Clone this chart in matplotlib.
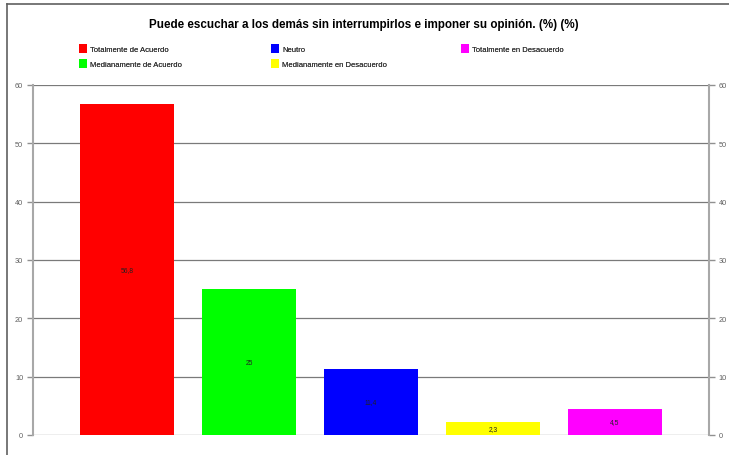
import matplotlib.pyplot as plt
from matplotlib import font_manager
from matplotlib.lines import Line2D
from matplotlib.patches import Patch

categories = [
    "Totalmente de Acuerdo",
    "Medianamente de Acuerdo",
    "Neutro",
    "Medianamente en Desacuerdo",
    "Totalmente en Desacuerdo",
]
values = [56.8, 25, 11.4, 2.3, 4.5]
value_labels = ["56,8", "25", "11,4", "2,3", "4,5"]
colors = ["#ff0000", "#00ff00", "#0000ff", "#ffff00", "#ff00ff"]
yticks = [0, 10, 20, 30, 40, 50, 60]

names = {f.name for f in font_manager.fontManager.ttflist}
narrow = "Liberation Sans Narrow" if "Liberation Sans Narrow" in names else "Liberation Sans"

fig = plt.figure(figsize=(7.29, 4.56), dpi=100)
ax = fig.add_axes([33 / 729, 1 - 436 / 456, 676 / 729, 350 / 456])

x = range(len(values))
ax.bar(x, values, width=0.77, color=colors, edgecolor="none", zorder=3)
for xi, v, lab in zip(x, values, value_labels):
    ax.text(xi, v / 2, lab, ha="center", va="center", fontsize=4.8,
            family="Liberation Sans", color="#222222", zorder=4)

ax.set_xlim(-0.77, 4.77)
ax.set_ylim(0, 60)
ax.set_yticks(yticks)
ax.set_xticks([])
ax.yaxis.grid(True, color="#7a7a7a", linewidth=0.9, zorder=1)
ax.tick_params(axis="y", which="both", direction="out", length=4, width=1,
               color="#909090", labelsize=5.3, labelcolor="#606060",
               left=True, right=True, labelleft=True, labelright=True, pad=3)
for lab in ax.get_yticklabels(which="both"):
    lab.set_family("Liberation Sans")
for side in ("left", "right"):
    ax.spines[side].set_color("#a8a8a8")
    ax.spines[side].set_linewidth(1.5)
for side in ("top", "bottom"):
    ax.spines[side].set_visible(False)

fig.text(364 / 729, 1 - 25 / 456, "Puede escuchar a los demás sin interrumpirlos e imponer su opinión. (%) (%)",
         ha="center", va="center", fontsize=8.4, fontweight="bold", family="Liberation Sans")

# legend: three columns placed like the reference, filled row by row
col_x = [79, 271, 461]
cols = [[0, 1], [2, 3], [4]]
for cx, idx in zip(col_x, cols):
    leg = fig.legend([Patch(facecolor=colors[i], edgecolor="none") for i in idx],
                     [categories[i] for i in idx],
                     loc="upper left", bbox_to_anchor=(cx / 729, 1 - 45 / 456),
                     frameon=False, prop={"family": narrow, "size": 5.5},
                     handlelength=1.0, handleheight=1.4, handletextpad=0.5,
                     labelspacing=0.75, borderaxespad=0, borderpad=0)
    for t in leg.get_texts():
        t.set_color("#333333")
    fig.add_artist(leg)

# outer frame
fig.add_artist(Line2D([7 / 729, 1], [1 - 5 / 456, 1 - 5 / 456], color="#606060", linewidth=1.2))
fig.add_artist(Line2D([7 / 729, 7 / 729], [0, 1 - 5 / 456], color="#606060", linewidth=1.2))

fig.savefig("out.png", dpi=100)
